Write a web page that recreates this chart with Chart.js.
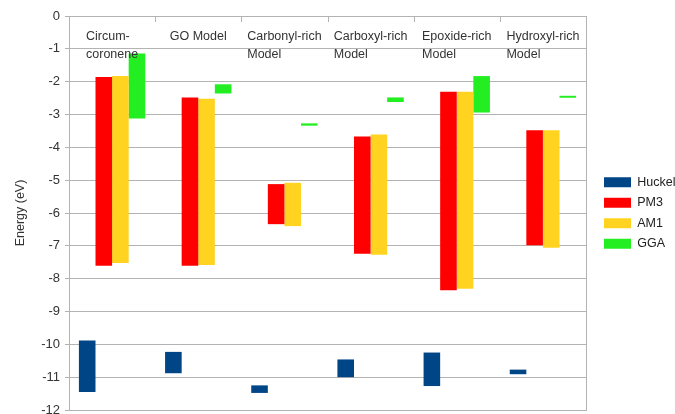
<!DOCTYPE html>
<html>
<head>
<meta charset="utf-8">
<script src="https://cdn.jsdelivr.net/npm/chart.js@4.4.0/dist/chart.umd.min.js"></script>
<style>
html,body{margin:0;padding:0;background:#fff;overflow:hidden}
#wrap{width:675px;height:414px;position:relative}
</style>
</head>
<body>
<div id="wrap"><canvas id="myChart"></canvas></div>
<script>
// categories (drawn inside the plot, at the top)
var categories = [["Circum-","coronene"],["GO Model"],["Carbonyl-rich","Model"],["Carboxyl-rich","Model"],["Epoxide-rich","Model"],["Hydroxyl-rich","Model"]];
var seriesNames = ["Huckel","PM3","AM1","GGA"];
var seriesColors = ["#004586","#ff0000","#ffd320","#22ee22"];

// energy ranges (eV), top and bottom of every bar
var huckelTop    = [-9.88,-10.23,-11.25,-10.46,-10.25,-10.77];
var huckelBottom = [-11.45,-10.88,-11.48,-11.00,-11.27,-10.91];
var pm3Top       = [-1.86,-2.48,-5.12,-3.67,-2.31,-3.48];
var pm3Bottom    = [-7.61,-7.61,-6.34,-7.24,-8.35,-6.98];
var am1Top       = [-1.83,-2.52,-5.08,-3.61,-2.31,-3.48];
var am1Bottom    = [-7.52,-7.58,-6.40,-7.27,-8.31,-7.06];
var ggaTop       = [-1.14,-2.08,-3.27,-2.48,-1.83,-2.43];
var ggaBottom    = [-3.12,-2.36,-3.34,-2.62,-2.94,-2.49];

var yMin = -12, yMax = 0, yStep = 1;

var FONT = '"Liberation Sans", Arial, sans-serif';
var gridColor = '#b3b3b3';

function ranges(bottom, top){
    var out = [];
    for (var i = 0; i < top.length; i++) out.push([bottom[i], top[i]]);
    return out;
}

var tops = [huckelTop, pm3Top, am1Top, ggaTop];
var bottoms = [huckelBottom, pm3Bottom, am1Bottom, ggaBottom];
var datasets = seriesNames.map(function(name, k){
    return {
        label: name,
        data: ranges(bottoms[k], tops[k]),
        backgroundColor: seriesColors[k],
        borderWidth: 0,
        categoryPercentage: 0.77,
        barPercentage: 1.0
    };
});

//category names inside the plot + little ticks on the top line
var categoryLabels = {
    id: 'categoryLabels',
    afterDatasetsDraw: function(chart){
        var ctx = chart.ctx, xs = chart.scales.x, area = chart.chartArea;
        ctx.save();
        ctx.font = '12.5px ' + FONT;
        ctx.fillStyle = '#333';
        ctx.textBaseline = 'middle';
        ctx.textAlign = 'left';
        categories.forEach(function(lines, i){
            var w = 0;
            lines.forEach(function(l){ w = Math.max(w, ctx.measureText(l).width); });
            var cx = xs.getPixelForValue(i);
            lines.forEach(function(l, j){
                ctx.fillText(l, cx - w / 2, area.top + 21 + j * 18);
            });
        });
        ctx.strokeStyle = gridColor;
        ctx.lineWidth = 1;
        for (var i = 1; i < categories.length; i++){
            var bx = Math.round((xs.getPixelForValue(i - 1) + xs.getPixelForValue(i)) / 2) + 0.5;
            ctx.beginPath();
            ctx.moveTo(bx, area.top);
            ctx.lineTo(bx, area.top + 6);
            ctx.stroke();
        }
        ctx.restore();
    }
};

const ctx = document.getElementById('myChart').getContext('2d');
const myChart = new Chart(ctx, {
    type: 'bar',
    data: {
        labels: categories,
        datasets: datasets
    },
    plugins: [categoryLabels],
    options: {
        responsive: true,
        maintainAspectRatio: false,
        animation: false,
        layout: { padding: { top: 16, bottom: 4, left: 0, right: 0 } },
        plugins: {
            legend: {
                position: 'right',
                maxWidth: 79,
                labels: {
                    boxWidth: 27,
                    boxHeight: 10,
                    padding: 8,
                    color: '#222',
                    font: { family: FONT, size: 12.5 }
                }
            },
            tooltip: { enabled: false }
        },
        scales: {
            x: {
                display: false
            },
            y: {
                min: yMin,
                max: yMax,
                ticks: {
                    stepSize: yStep,
                    padding: 5,
                    color: '#333',
                    font: { family: FONT, size: 13 }
                },
                grid: { color: gridColor, tickLength: 4 },
                border: { color: gridColor },
                title: {
                    display: true,
                    text: 'Energy (eV)',
                    color: '#333',
                    font: { family: FONT, size: 12.5 },
                    padding: { top: 13, bottom: 0 }
                },
                afterFit: function(scale){
                    scale.width = 69;
                    scale.paddingTop = 0;
                    scale.paddingBottom = 0;
                }
            },
            yRight: {
                position: 'right',
                display: true,
                ticks: { display: false },
                grid: { drawOnChartArea: false, drawTicks: false },
                border: { color: gridColor },
                afterFit: function(scale){
                    scale.width = 10;
                }
            }
        }
    }
});
</script>
</body>
</html>
